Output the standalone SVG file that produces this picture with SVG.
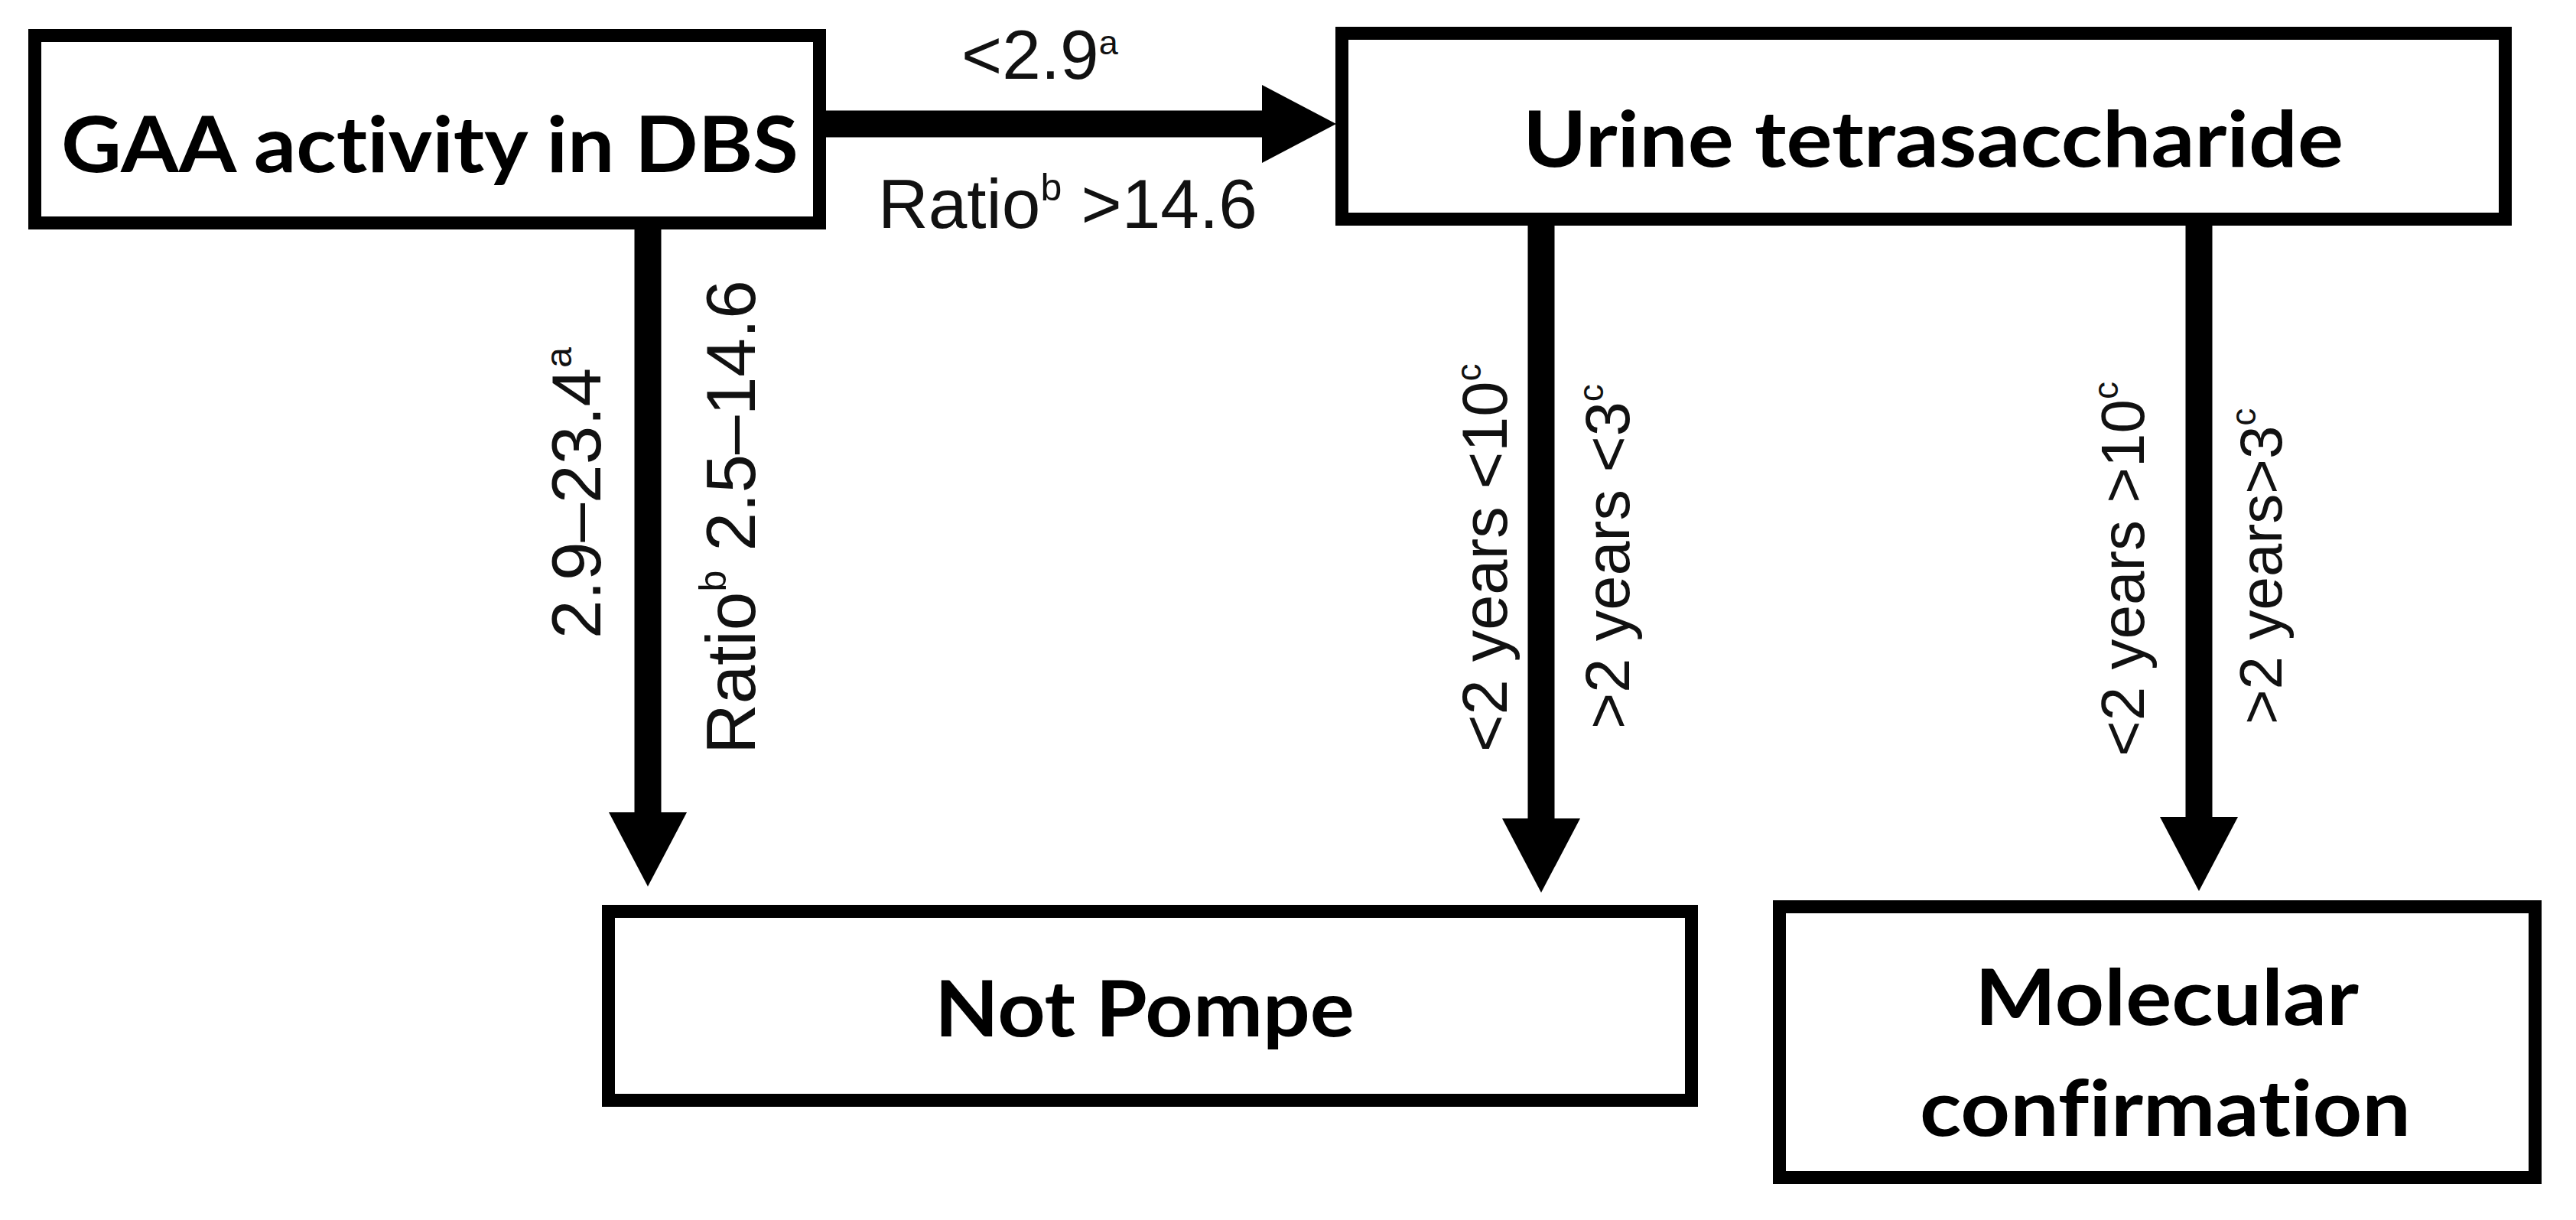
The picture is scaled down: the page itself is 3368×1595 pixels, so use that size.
<svg xmlns="http://www.w3.org/2000/svg" width="3368" height="1595" viewBox="0 0 3368 1595">
<style>
.box{fill:#fff;stroke:#000;stroke-width:17}
.bt{font-family:Lato,"Open Sans","Liberation Sans",sans-serif;font-weight:bold;font-size:102px;fill:#000;font-variant-ligatures:none}
.lb{font-family:"Liberation Sans",Arial,sans-serif;fill:#111}
.shaft{stroke:#000;stroke-width:35;fill:none;marker-end:url(#head)}
</style>
<defs>
<marker id="head" markerUnits="userSpaceOnUse" markerWidth="97" markerHeight="102" viewBox="0 0 97 102" refX="0" refY="51" orient="auto">
<path d="M0,0 L97,51 L0,102 Z" fill="#000"/>
</marker>
</defs>
<rect width="3368" height="1595" fill="#fff"/>
<g id="connectors">
<line class="shaft" x1="1080" y1="162" x2="1650" y2="162"/>
<line class="shaft" x1="847" y1="298" x2="847" y2="1062"/>
<line class="shaft" x1="2015" y1="295" x2="2015" y2="1070"/>
<line class="shaft" x1="2875" y1="295" x2="2875" y2="1068"/>
<text class="lb" x="1257" y="103" font-size="91">&lt;2.9<tspan font-size="45" dy="-32">a</tspan></text>
<text class="lb" x="1148" y="298" font-size="91">Ratio<tspan font-size="50" dy="-36">b</tspan><tspan dy="36"> &gt;14.6</tspan></text>
<text class="lb" font-size="91" transform="translate(785,835) rotate(-90)">2.9–23.4<tspan font-size="48" dy="-38">a</tspan></text>
<text class="lb" font-size="91" transform="translate(987,986) rotate(-90)">Ratio<tspan font-size="50" dy="-38">b</tspan><tspan dy="38"> 2.5–14.6</tspan></text>
<text class="lb" font-size="83" transform="translate(1970,983) rotate(-90)">&lt;2 years &lt;10<tspan font-size="46" dy="-34">c</tspan></text>
<text class="lb" font-size="81" transform="translate(2130,953) rotate(-90)">&gt;2 years &lt;3<tspan font-size="46" dy="-34">c</tspan></text>
<text class="lb" font-size="80" transform="translate(2803,989) rotate(-90)">&lt;2 years &gt;10<tspan font-size="46" dy="-34">c</tspan></text>
<text class="lb" font-size="78" transform="translate(2983,947) rotate(-90)">&gt;2 years&gt;3<tspan font-size="46" dy="-34">c</tspan></text>
</g>
<g id="gaa">
<rect class="box" x="45.5" y="46.5" width="1026" height="245"/>
<text class="bt" x="80" y="225" textLength="964" lengthAdjust="spacingAndGlyphs">GAA activity in DBS</text>
</g>
<g id="urine">
<rect class="box" x="1754.5" y="43.5" width="1521" height="243"/>
<text class="bt" x="1991" y="218" textLength="1073" lengthAdjust="spacingAndGlyphs">Urine tetrasaccharide</text>
</g>
<g id="notpompe">
<rect class="box" x="795.5" y="1191.5" width="1416" height="247"/>
<text class="bt" x="1222" y="1355" textLength="549" lengthAdjust="spacingAndGlyphs">Not Pompe</text>
</g>
<g id="molecular">
<rect class="box" x="2326.5" y="1185.5" width="988" height="354"/>
<text class="bt" x="2582" y="1340" textLength="502" lengthAdjust="spacingAndGlyphs">Molecular</text>
<text class="bt" x="2510" y="1485" textLength="642" lengthAdjust="spacingAndGlyphs">confirmation</text>
</g>
</svg>
